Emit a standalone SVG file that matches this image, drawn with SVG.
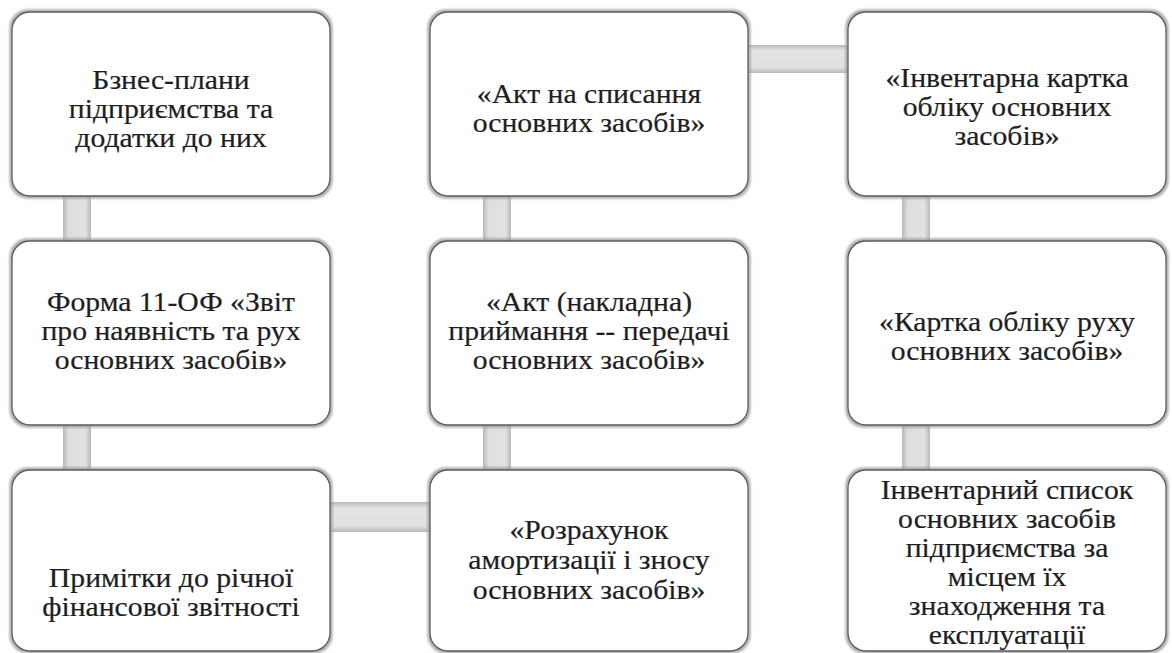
<svg xmlns="http://www.w3.org/2000/svg" width="1172" height="653" viewBox="0 0 1172 653">
<defs>
<linearGradient id="gv" x1="0" y1="0" x2="1" y2="0">
<stop offset="0" stop-color="#b8b8b8"/>
<stop offset="0.2" stop-color="#dedede"/>
<stop offset="0.8" stop-color="#e2e2e2"/>
<stop offset="1" stop-color="#b8b8b8"/>
</linearGradient>
<linearGradient id="gh" x1="0" y1="0" x2="0" y2="1">
<stop offset="0" stop-color="#b8b8b8"/>
<stop offset="0.2" stop-color="#e4e4e4"/>
<stop offset="0.8" stop-color="#e0e0e0"/>
<stop offset="1" stop-color="#b8b8b8"/>
</linearGradient>
<filter id="glow" x="-5%" y="-5%" width="110%" height="110%">
<feMorphology in="SourceAlpha" operator="dilate" radius="2" result="d"/>
<feGaussianBlur in="d" stdDeviation="1.2" result="b"/>
<feFlood flood-color="#9a9a9a" flood-opacity="0.8"/>
<feComposite in2="b" operator="in" result="s"/>
<feMerge><feMergeNode in="s"/><feMergeNode in="SourceGraphic"/></feMerge>
</filter>
</defs>
<style>
.box{fill:#ffffff;stroke:#5a5a5a;stroke-width:1.3;filter:url(#glow)}
.t{font-family:'Liberation Serif','Times New Roman',serif;font-size:27px;fill:#1e1e1e;stroke:#1e1e1e;stroke-width:0.2;text-anchor:middle}
.cv{fill:url(#gv)}
.ch{fill:url(#gh)}
</style>
<rect width="1172" height="653" fill="#ffffff"/>
<g id="connectors">
<rect class="cv" x="63" y="194" width="28" height="48"/>
<rect class="cv" x="63" y="423" width="28" height="48"/>
<rect class="ch" x="328" y="502" width="104" height="30"/>
<rect class="cv" x="483" y="194" width="28" height="48"/>
<rect class="cv" x="483" y="423" width="28" height="48"/>
<rect class="ch" x="746" y="45" width="104" height="28"/>
<rect class="cv" x="902" y="194" width="28" height="48"/>
<rect class="cv" x="902" y="423" width="28" height="48"/>
</g>
<g id="n1">
<rect class="box" x="12" y="12" width="318" height="184" rx="18"/>
<text class="t" transform="translate(171 0) scale(1.1 1)"><tspan x="0" y="89">Бзнес-плани</tspan><tspan x="0" y="118">підприємства та</tspan><tspan x="0" y="147">додатки до них</tspan></text>
</g>
<g id="n2">
<rect class="box" x="12" y="241" width="318" height="184" rx="18"/>
<text class="t" transform="translate(171 0) scale(1.1 1)"><tspan x="0" y="311">Форма 11-ОФ «Звіт</tspan><tspan x="0" y="340">про наявність  та рух</tspan><tspan x="0" y="369">основних засобів»</tspan></text>
</g>
<g id="n3">
<rect class="box" x="12" y="470" width="318" height="181" rx="18"/>
<text class="t" transform="translate(171 0) scale(1.1 1)"><tspan x="0" y="587">Примітки до річної</tspan><tspan x="0" y="616">фінансової звітності</tspan></text>
</g>
<g id="n4">
<rect class="box" x="430" y="12" width="318" height="184" rx="18"/>
<text class="t" transform="translate(589 0) scale(1.1 1)"><tspan x="0" y="103">«Акт на списання</tspan><tspan x="0" y="132">основних засобів»</tspan></text>
</g>
<g id="n5">
<rect class="box" x="430" y="241" width="318" height="184" rx="18"/>
<text class="t" transform="translate(589 0) scale(1.1 1)"><tspan x="0" y="311">«Акт (накладна)</tspan><tspan x="0" y="340">приймання -- передачі</tspan><tspan x="0" y="369">основних засобів»</tspan></text>
</g>
<g id="n6">
<rect class="box" x="430" y="470" width="318" height="181" rx="18"/>
<text class="t" transform="translate(589 0) scale(1.1 1)"><tspan x="0" y="539">«Розрахунок</tspan><tspan x="0" y="569">амортизації і зносу</tspan><tspan x="0" y="599">основних засобів»</tspan></text>
</g>
<g id="n7">
<rect class="box" x="848" y="12" width="318" height="184" rx="18"/>
<text class="t" transform="translate(1007 0) scale(1.1 1)"><tspan x="0" y="87">«Інвентарна картка</tspan><tspan x="0" y="116">обліку основних</tspan><tspan x="0" y="145">засобів»</tspan></text>
</g>
<g id="n8">
<rect class="box" x="848" y="241" width="318" height="184" rx="18"/>
<text class="t" transform="translate(1007 0) scale(1.1 1)"><tspan x="0" y="331">«Картка обліку руху</tspan><tspan x="0" y="360">основних засобів»</tspan></text>
</g>
<g id="n9">
<rect class="box" x="848" y="470" width="318" height="181" rx="18"/>
<text class="t" transform="translate(1007 0) scale(1.1 1)"><tspan x="0" y="499">Інвентарний список</tspan><tspan x="0" y="528">основних засобів</tspan><tspan x="0" y="557">підприємства за</tspan><tspan x="0" y="586">місцем їх</tspan><tspan x="0" y="615">знаходження та</tspan><tspan x="0" y="644">експлуатації</tspan></text>
</g>
</svg>
